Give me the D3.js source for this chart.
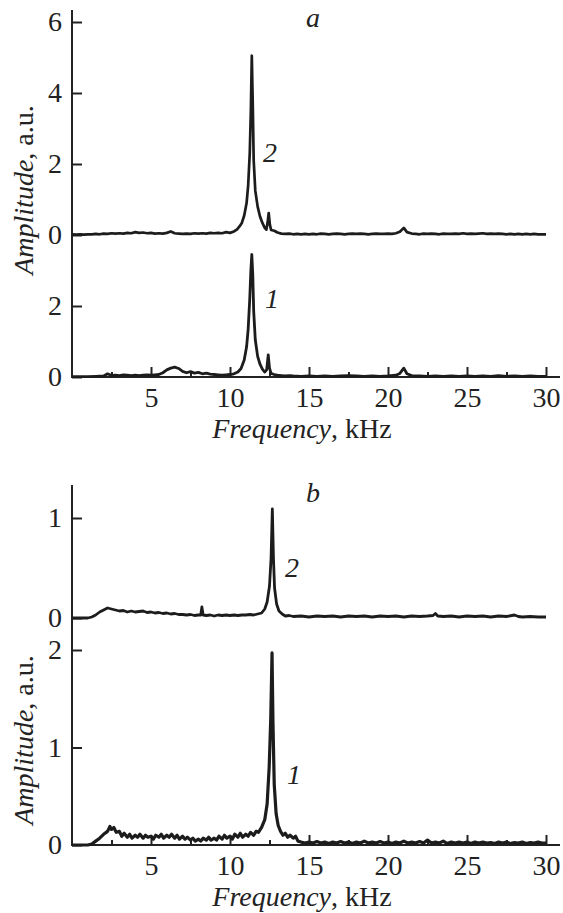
<!DOCTYPE html>
<html>
<head>
<meta charset="utf-8">
<script src="https://cdn.jsdelivr.net/npm/d3@7"></script>
<style>
  body { margin: 0; background: #fff; }
  svg { display: block; }
  .tick line { stroke: #222; stroke-width: 2; }
</style>
</head>
<body>
<script>
// spectra, [frequency kHz, amplitude a.u.]
const seriesA2 = [[0,0.02],[0.25,0.01],[0.5,0.02],[0.75,0.01],[1,0.02],[1.25,0.02],[1.5,0.03],[1.75,0.02],[2,0.04],[2.25,0.03],[2.5,0.05],[2.75,0.04],[3,0.05],[3.25,0.04],[3.5,0.06],[3.75,0.05],[4,0.08],[4.25,0.06],[4.5,0.07],[4.75,0.05],[5,0.06],[5.25,0.04],[5.5,0.05],[5.75,0.04],[6,0.06],[6.25,0.1],[6.5,0.05],[6.75,0.04],[7,0.03],[7.25,0.04],[7.5,0.03],[7.75,0.05],[8,0.04],[8.25,0.05],[8.5,0.04],[8.75,0.06],[9,0.05],[9.25,0.06],[9.5,0.05],[9.75,0.08],[10,0.06],[10.25,0.1],[10.45,0.16],[10.6,0.24],[10.75,0.34],[10.9,0.55],[11.05,0.9],[11.15,1.4],[11.25,2.3],[11.32,3.5],[11.38,5.05],[11.44,3.7],[11.5,2.1],[11.6,1.25],[11.75,0.8],[11.9,0.52],[12.05,0.34],[12.2,0.2],[12.3,0.15],[12.38,0.35],[12.45,0.62],[12.52,0.3],[12.6,0.14],[12.8,0.12],[13,0.07],[13.25,0.04],[13.5,0.03],[13.75,0.04],[14,0.02],[14.25,0.03],[14.5,0.02],[14.75,0.03],[15,0.02],[15.25,0.03],[15.5,0.02],[15.75,0.04],[16,0.03],[16.25,0.02],[16.5,0.03],[16.75,0.04],[17,0.03],[17.25,0.02],[17.5,0.03],[17.75,0.04],[18,0.03],[18.25,0.04],[18.5,0.03],[18.75,0.02],[19,0.03],[19.25,0.04],[19.5,0.03],[19.75,0.03],[20,0.04],[20.25,0.03],[20.5,0.05],[20.75,0.09],[21,0.2],[21.2,0.08],[21.5,0.04],[21.75,0.03],[22,0.02],[22.25,0.04],[22.5,0.03],[22.75,0.04],[23,0.03],[23.25,0.02],[23.5,0.04],[23.75,0.03],[24,0.03],[24.25,0.04],[24.5,0.03],[24.75,0.05],[25,0.03],[25.25,0.04],[25.5,0.03],[25.75,0.04],[26,0.05],[26.25,0.03],[26.5,0.04],[26.75,0.03],[27,0.04],[27.25,0.03],[27.5,0.02],[27.75,0.03],[28,0.02],[28.25,0.03],[28.5,0.02],[28.75,0.03],[29,0.02],[29.25,0.03],[29.5,0.02],[29.75,0.02],[30,0.02]];

const seriesA1 = [[0,0.01],[0.5,0.01],[1,0.01],[1.5,0.02],[2,0.03],[2.25,0.09],[2.5,0.04],[2.75,0.05],[3,0.04],[3.25,0.06],[3.5,0.05],[3.75,0.04],[4,0.05],[4.25,0.04],[4.5,0.05],[4.75,0.06],[5,0.05],[5.25,0.06],[5.5,0.07],[5.75,0.12],[6,0.2],[6.25,0.25],[6.5,0.28],[6.75,0.24],[7,0.16],[7.25,0.12],[7.5,0.15],[7.75,0.11],[8,0.13],[8.25,0.09],[8.5,0.11],[8.75,0.08],[9,0.07],[9.25,0.06],[9.5,0.05],[9.75,0.06],[10,0.07],[10.25,0.09],[10.5,0.14],[10.7,0.24],[10.9,0.48],[11.05,0.85],[11.15,1.35],[11.25,2.2],[11.32,3.0],[11.38,3.45],[11.44,2.9],[11.5,1.85],[11.6,1.05],[11.75,0.58],[11.9,0.36],[12.05,0.22],[12.2,0.14],[12.32,0.2],[12.42,0.62],[12.5,0.25],[12.6,0.1],[12.8,0.07],[13,0.05],[13.25,0.04],[13.5,0.03],[13.75,0.04],[14,0.03],[14.5,0.02],[15,0.03],[15.5,0.02],[16,0.03],[16.5,0.02],[17,0.03],[17.5,0.04],[18,0.03],[18.5,0.02],[19,0.03],[19.5,0.02],[20,0.03],[20.5,0.05],[20.75,0.1],[21,0.25],[21.2,0.09],[21.5,0.04],[22,0.03],[22.5,0.02],[23,0.03],[23.5,0.02],[24,0.03],[24.5,0.02],[25,0.03],[25.5,0.02],[26,0.03],[26.5,0.02],[27,0.04],[27.5,0.02],[28,0.03],[28.5,0.02],[29,0.03],[29.5,0.02],[30,0.02]];

const seriesB2 = [[0,0],[0.5,0],[1,0],[1.25,0.01],[1.5,0.03],[1.75,0.06],[2,0.08],[2.25,0.1],[2.5,0.09],[2.75,0.08],[3,0.07],[3.25,0.075],[3.5,0.06],[3.75,0.07],[4,0.06],[4.25,0.065],[4.5,0.07],[4.75,0.055],[5,0.06],[5.25,0.05],[5.5,0.055],[5.75,0.045],[6,0.05],[6.25,0.04],[6.5,0.045],[6.75,0.035],[7,0.035],[7.25,0.03],[7.5,0.035],[7.75,0.025],[8,0.03],[8.15,0.03],[8.22,0.11],[8.3,0.03],[8.5,0.025],[8.75,0.03],[9,0.02],[9.25,0.03],[9.5,0.025],[9.75,0.03],[10,0.025],[10.25,0.03],[10.5,0.025],[10.75,0.03],[11,0.03],[11.25,0.035],[11.5,0.03],[11.75,0.04],[12,0.05],[12.2,0.09],[12.35,0.16],[12.5,0.32],[12.6,0.6],[12.68,1.09],[12.75,0.6],[12.82,0.3],[12.95,0.14],[13.1,0.07],[13.3,0.04],[13.5,0.02],[13.75,0.025],[14,0.015],[14.5,0.02],[15,0.01],[15.5,0.02],[16,0.015],[16.5,0.02],[17,0.01],[17.5,0.02],[18,0.015],[18.5,0.02],[19,0.01],[19.5,0.02],[20,0.015],[20.5,0.02],[21,0.01],[21.5,0.02],[22,0.015],[22.5,0.02],[22.85,0.025],[23,0.045],[23.15,0.02],[23.5,0.015],[24,0.02],[24.5,0.01],[25,0.02],[25.5,0.015],[26,0.02],[26.5,0.01],[27,0.02],[27.5,0.015],[28,0.03],[28.25,0.015],[28.5,0.01],[29,0.015],[29.5,0.01],[30,0.01]];

const seriesB1 = [[0,0],[0.5,0],[1,0],[1.25,0.01],[1.5,0.04],[1.75,0.07],[2,0.11],[2.25,0.14],[2.4,0.19],[2.5,0.16],[2.65,0.18],[2.8,0.13],[3,0.14],[3.15,0.09],[3.3,0.12],[3.5,0.08],[3.65,0.11],[3.8,0.07],[4,0.1],[4.15,0.08],[4.3,0.11],[4.5,0.07],[4.65,0.1],[4.8,0.08],[5,0.09],[5.15,0.06],[5.3,0.1],[5.5,0.08],[5.65,0.11],[5.8,0.07],[6,0.1],[6.15,0.08],[6.3,0.11],[6.5,0.07],[6.65,0.1],[6.8,0.06],[7,0.09],[7.15,0.06],[7.3,0.08],[7.5,0.05],[7.65,0.07],[7.8,0.04],[8,0.06],[8.15,0.04],[8.3,0.07],[8.5,0.05],[8.65,0.08],[8.8,0.05],[9,0.07],[9.15,0.05],[9.3,0.09],[9.5,0.06],[9.65,0.1],[9.8,0.07],[10,0.09],[10.15,0.06],[10.3,0.11],[10.5,0.08],[10.65,0.12],[10.8,0.08],[11,0.11],[11.15,0.09],[11.3,0.13],[11.5,0.1],[11.65,0.14],[11.8,0.13],[12,0.18],[12.2,0.26],[12.35,0.42],[12.48,0.8],[12.58,1.3],[12.66,1.97],[12.72,1.25],[12.8,0.62],[12.92,0.32],[13.05,0.2],[13.2,0.14],[13.35,0.1],[13.5,0.12],[13.65,0.08],[13.8,0.1],[14,0.07],[14.15,0.09],[14.3,0.04],[14.5,0.03],[14.75,0.02],[15,0.03],[15.25,0.02],[15.5,0.035],[15.75,0.02],[16,0.03],[16.25,0.015],[16.5,0.03],[16.75,0.02],[17,0.035],[17.25,0.02],[17.5,0.03],[17.75,0.015],[18,0.03],[18.25,0.02],[18.5,0.04],[18.75,0.02],[19,0.03],[19.25,0.02],[19.5,0.035],[19.75,0.02],[20,0.03],[20.25,0.015],[20.5,0.03],[20.75,0.02],[21,0.04],[21.25,0.02],[21.5,0.03],[21.75,0.02],[22,0.035],[22.25,0.02],[22.5,0.05],[22.75,0.02],[23,0.03],[23.25,0.02],[23.5,0.04],[23.75,0.015],[24,0.03],[24.25,0.02],[24.5,0.03],[24.75,0.02],[25,0.03],[25.25,0.015],[25.5,0.03],[25.75,0.02],[26,0.03],[26.25,0.02],[26.5,0.025],[26.75,0.015],[27,0.03],[27.25,0.02],[27.5,0.03],[27.75,0.015],[28,0.025],[28.25,0.02],[28.5,0.03],[28.75,0.015],[29,0.025],[29.25,0.02],[29.5,0.03],[29.75,0.02],[30,0.02]];

const freqTicks = [5, 10, 15, 20, 25, 30];
const freqMinorTicks = [2.5, 7.5, 12.5, 17.5, 22.5, 27.5];
const ticksA2 = [0, 2, 4, 6];
const ticksA1 = [0, 2];
const ticksB2 = [0, 1];
const ticksB1 = [0, 1, 2];

const width = 563, height = 913;
const serif = "Liberation Serif";
const ink = "#222";
const svg = d3.select("body").append("svg")
    .attr("width", width)
    .attr("height", height);

const x = d3.scaleLinear().domain([0, 30]).range([72, 546]);

function drawPanel(p) {
    const g = svg.append("g");
    // vertical axis line
    g.append("line")
        .attr("x1", x(0)).attr("x2", x(0))
        .attr("y1", p.top).attr("y2", p.bottom)
        .attr("stroke", ink).attr("stroke-width", 2);
    // horizontal axis line
    g.append("line")
        .attr("x1", x(0) - 1).attr("x2", 560)
        .attr("y1", p.bottom).attr("y2", p.bottom)
        .attr("stroke", ink).attr("stroke-width", 2);

    g.append("g")
        .attr("transform", `translate(0,${p.bottom})`)
        .call(d3.axisBottom(x).tickValues(freqTicks).tickSizeInner(-10).tickSizeOuter(0).tickPadding(10))
        .call(a => a.attr("font-family", serif).attr("font-size", 28).select(".domain").remove())
        .call(a => a.selectAll("text").attr("fill", ink));
    g.append("g")
        .attr("transform", `translate(0,${p.bottom})`)
        .call(d3.axisBottom(x).tickValues(freqMinorTicks).tickSizeInner(-5).tickSizeOuter(0).tickFormat(""))
        .call(a => a.select(".domain").remove());

    p.curves.forEach(c => {
        g.append("g")
            .attr("transform", `translate(${x(0)},0)`)
            .call(d3.axisLeft(c.y).tickValues(c.ticks).tickSizeInner(-10).tickSizeOuter(0).tickPadding(10).tickFormat(d3.format("d")))
            .call(a => a.attr("font-family", serif).attr("font-size", 28).select(".domain").remove())
            .call(a => a.selectAll("text").attr("fill", ink));

        const line = d3.line().x(d => x(d[0])).y(d => c.y(d[1]));
        g.append("path")
            .datum(c.data)
            .attr("fill", "none")
            .attr("stroke", "#1c1c1c")
            .attr("stroke-width", c.sw)
            .attr("stroke-linejoin", "round")
            .attr("d", line);

        g.append("text")
            .attr("x", c.lx).attr("y", c.ly)
            .attr("font-family", serif)
            .attr("font-size", 28)
            .attr("font-style", "italic")
            .attr("fill", ink)
            .text(c.label);
    });

    g.append("text")
        .attr("x", 313).attr("y", p.titleY)
        .attr("text-anchor", "middle")
        .attr("font-family", serif)
        .attr("font-size", 28)
        .attr("font-style", "italic")
        .attr("fill", ink)
        .text(p.title);

    const xt = g.append("text")
        .attr("x", 302).attr("y", p.bottom + 61)
        .attr("text-anchor", "middle")
        .attr("font-family", serif)
        .attr("font-size", 28)
        .attr("fill", ink);
    xt.append("tspan").attr("font-style", "italic").text("Frequency");
    xt.append("tspan").text(", kHz");

    const yt = g.append("text")
        .attr("transform", `translate(33,${p.yTitleMid}) rotate(-90)`)
        .attr("text-anchor", "middle")
        .attr("font-family", serif)
        .attr("font-size", 28)
        .attr("fill", ink);
    yt.append("tspan").attr("font-style", "italic").text("Amplitude");
    yt.append("tspan").text(", a.u.");
}

drawPanel({
    top: 10, bottom: 377, title: "a", titleY: 27, yTitleMid: 190,
    curves: [
        { data: seriesA2, y: d3.scaleLinear().domain([0, 6]).range([235, 22]), ticks: ticksA2, label: "2", lx: 263, ly: 162, sw: 2.7 },
        { data: seriesA1, y: d3.scaleLinear().domain([0, 2]).range([377, 306]), ticks: ticksA1, label: "1", lx: 265, ly: 308, sw: 2.8 }
    ]
});

drawPanel({
    top: 485, bottom: 845, title: "b", titleY: 502, yTitleMid: 740,
    curves: [
        { data: seriesB2, y: d3.scaleLinear().domain([0, 1]).range([618, 518]), ticks: ticksB2, label: "2", lx: 285, ly: 577, sw: 2.8 },
        { data: seriesB1, y: d3.scaleLinear().domain([0, 2]).range([845, 650]), ticks: ticksB1, label: "1", lx: 287, ly: 784, sw: 3.2 }
    ]
});
</script>
</body>
</html>
